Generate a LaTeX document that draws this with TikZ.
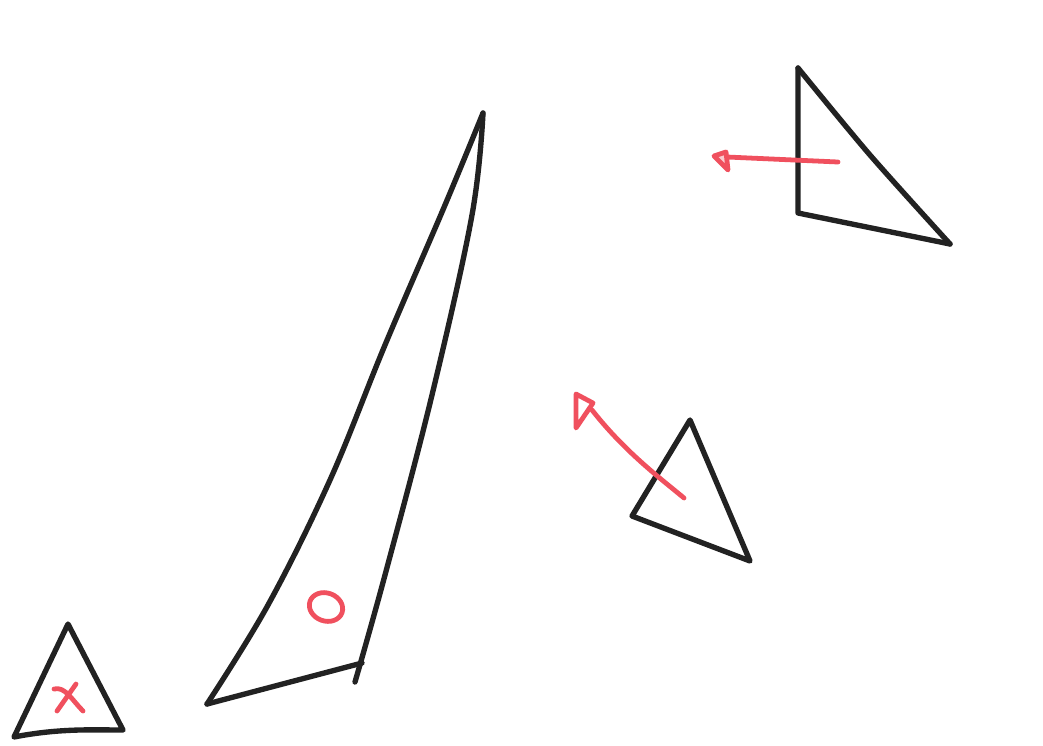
\documentclass[tikz,border=0pt]{standalone}
\usepackage{xcolor}
\usepackage{tikz}
\definecolor{inkblack}{HTML}{222222}
\definecolor{markred}{HTML}{F0505E}

\begin{document}
\begin{tikzpicture}[
    x=0.025cm, y=-0.025cm,
    pen/.style={draw=inkblack, line width=3.8pt, line cap=round, line join=round},
    redpen/.style={draw=markred, line width=3.4pt, line cap=round, line join=round}
]
\useasboundingbox[fill=white] (0,0) rectangle (1043,745);
% tall thin triangle
\draw[pen] plot[smooth, tension=0.6] coordinates {(483,113) (445,205) (385,345) (330,480) (268,605) (207,704)};
\draw[pen] plot[smooth, tension=0.6] coordinates {(483,113) (472,215) (432,395) (385,575) (355,682)};
\draw[pen] (207,704) -- (362,663);
\draw[redpen, rotate around={-20:(326,607)}] (326,607) ellipse [x radius=17, y radius=14];
% top right triangle
\draw[pen] (798,68) -- (798,213) -- (950,244);
\draw[pen] plot[smooth, tension=0.5] coordinates {(798,68) (870,155) (950,244)};
\draw[redpen] (838,162) -- (727,157);
\draw[redpen, fill=markred!30] (714,156) -- (726,152) -- (728,170) -- cycle;
% middle triangle
\draw[pen] (690,420) -- (632,516) -- (750,561) -- cycle;
\draw[redpen] (684,498) .. controls (660,478) and (625,452) .. (592,410);
\draw[redpen] (576,428) -- (576,394) -- (593,403) -- cycle;
% small triangle
\draw[pen] (68,624) -- (14,737) .. controls (60,728) and (95,730) .. (123,730) -- cycle;
\draw[redpen] (54,689) .. controls (65,686) and (72,700) .. (83,711);
\draw[redpen] (76,684) -- (57,711);
\end{tikzpicture}
\end{document}
